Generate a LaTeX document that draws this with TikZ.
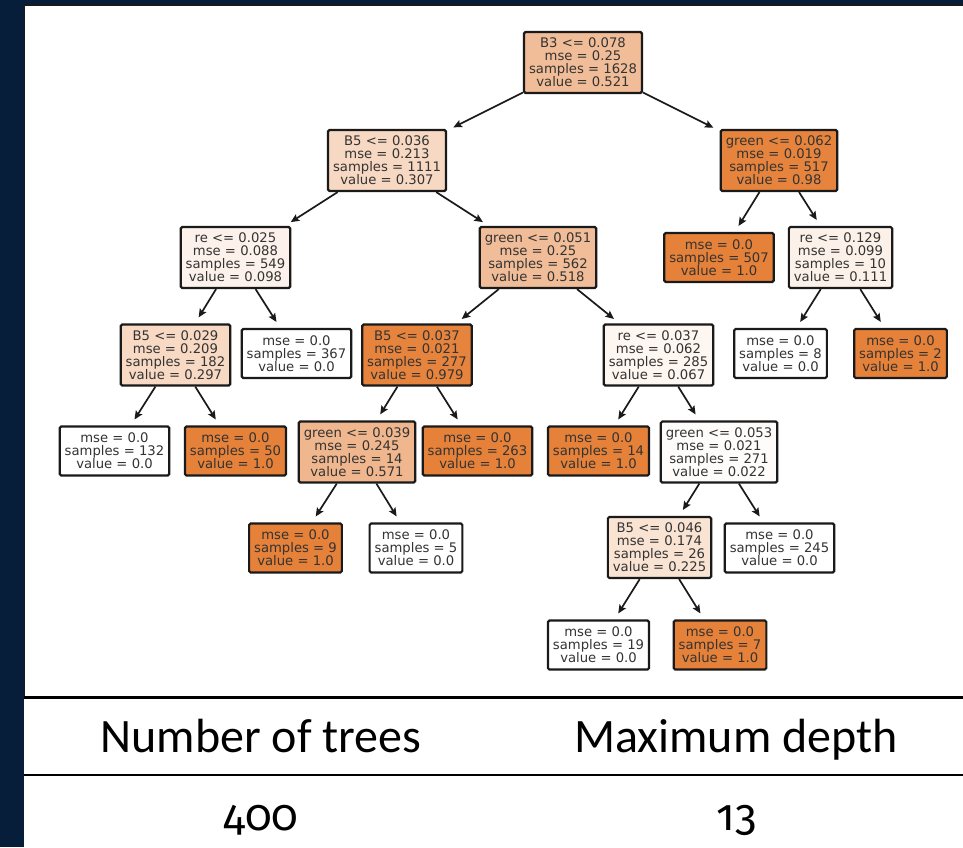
\documentclass[tikz,border=0pt]{standalone}
\usepackage{fontspec}
\usetikzlibrary{arrows.meta}
\newfontfamily\treefont{DejaVu Sans}
\newfontfamily\tabfont{Carlito}
\newfontfamily\numfont[Numbers=OldStyle]{Fira Sans}
\definecolor{navy}{HTML}{061E3A}
\definecolor{tor}{HTML}{E58139}
\definecolor{tline}{HTML}{1A1A1A}
\definecolor{ttext}{HTML}{333333}
\tikzset{
  tn/.style={draw=tline, line width=2.2pt, rounded corners=1.5pt,
    fill=tor!#1!white, align=center, inner xsep=5pt, inner ysep=4pt,
    text=ttext, font=\treefont\fontsize{13.2}{13}\selectfont},
  tn/.default=0,
  four/.style={tn=#1, minimum height=61pt},
  three/.style={tn=#1, minimum height=49pt},
  edge/.style={draw=tline, line width=1.7pt,
    -{Stealth[length=8.5pt,width=7.5pt,inset=1.5pt]}, shorten >=7pt},
  hdr/.style={anchor=base, inner sep=0pt, font=\tabfont\fontsize{48}{50}\selectfont, text=black},
  num/.style={anchor=base, inner sep=0pt, font=\numfont\fontsize{44}{46}\selectfont, text=black},
  rule/.style={draw=black}
}
\begin{document}
\begin{tikzpicture}[x=1pt,y=-1pt]
\useasboundingbox (0,0) rectangle (963,847);
\fill[white] (0,0) rectangle (963,847);
% navy frame
\fill[navy] (0,0) rectangle (24,847);
\fill[navy] (0,0) rectangle (963,4.5);
% tree image frame
\draw[tline, line width=1.5pt] (24,5) -- (963,5);
\draw[tline, line width=1.5pt] (24.6,4.5) -- (24.6,697);

% tree nodes
\node[four=52] (n0) at (583,62.5) {B3 <= 0.078\\mse = 0.25\\samples = 1628\\value = 0.521};
\node[four=31] (n1) at (387,160.5) {B5 <= 0.036\\mse = 0.213\\samples = 1111\\value = 0.307};
\node[four=98] (n2) at (779,160.5) {green <= 0.062\\mse = 0.019\\samples = 517\\value = 0.98};
\node[four=10] (n3) at (235.5,257.5) {re <= 0.025\\mse = 0.088\\samples = 549\\value = 0.098};
\node[four=52] (n4) at (538,257.5) {green <= 0.051\\mse = 0.25\\samples = 562\\value = 0.518};
\node[three=100] (n5) at (719,257.5) {mse = 0.0\\samples = 507\\value = 1.0};
\node[four=11] (n6) at (840.5,257.5) {re <= 0.129\\mse = 0.099\\samples = 10\\value = 0.111};
\node[four=30] (n7) at (175.5,355) {B5 <= 0.029\\mse = 0.209\\samples = 182\\value = 0.297};
\node[three=0] (n8) at (296.5,353.5) {mse = 0.0\\samples = 367\\value = 0.0};
\node[four=98] (n9) at (417,355) {B5 <= 0.037\\mse = 0.021\\samples = 277\\value = 0.979};
\node[four=7] (n10) at (658.5,355) {re <= 0.037\\mse = 0.062\\samples = 285\\value = 0.067};
\node[three=0] (n11) at (780.5,353.5) {mse = 0.0\\samples = 8\\value = 0.0};
\node[three=100] (n12) at (900.5,353.5) {mse = 0.0\\samples = 2\\value = 1.0};
\node[three=0] (n13) at (114.5,451) {mse = 0.0\\samples = 132\\value = 0.0};
\node[three=100] (n14) at (235.5,451) {mse = 0.0\\samples = 50\\value = 1.0};
\node[four=57] (n15) at (357,452) {green <= 0.039\\mse = 0.245\\samples = 14\\value = 0.571};
\node[three=100] (n16) at (477.5,451) {mse = 0.0\\samples = 263\\value = 1.0};
\node[three=100] (n17) at (598.5,451) {mse = 0.0\\samples = 14\\value = 1.0};
\node[four=2] (n18) at (719,452) {green <= 0.053\\mse = 0.021\\samples = 271\\value = 0.022};
\node[three=100] (n19) at (295.5,548) {mse = 0.0\\samples = 9\\value = 1.0};
\node[three=0] (n20) at (416,548) {mse = 0.0\\samples = 5\\value = 0.0};
\node[four=22] (n21) at (659.5,547.5) {B5 <= 0.046\\mse = 0.174\\samples = 26\\value = 0.225};
\node[three=0] (n22) at (779.5,548) {mse = 0.0\\samples = 245\\value = 0.0};
\node[three=0] (n23) at (598.5,645) {mse = 0.0\\samples = 19\\value = 0.0};
\node[three=100] (n24) at (720,645) {mse = 0.0\\samples = 7\\value = 1.0};

% edges
\foreach \a/\b in {n0/n1,n0/n2,n1/n3,n1/n4,n2/n5,n2/n6,n3/n7,n3/n8,n4/n9,n4/n10,
  n6/n11,n6/n12,n7/n13,n7/n14,n9/n15,n9/n16,n10/n17,n10/n18,n15/n19,n15/n20,
  n18/n21,n18/n22,n21/n23,n21/n24}
  \draw[edge] (\a) -- (\b);

% table
\draw[rule, line width=3pt] (24,697) -- (963,697);
\draw[rule, line width=2pt] (24,775) -- (963,775);
\node[hdr] (h1) at (261,752) {Number of trees};
\node[hdr] (h2) at (736,752) {Maximum depth};
\node[num] (v1) at (261,830) {400};
\node[num] (v2) at (737,830) {13};
\end{tikzpicture}
\end{document}
